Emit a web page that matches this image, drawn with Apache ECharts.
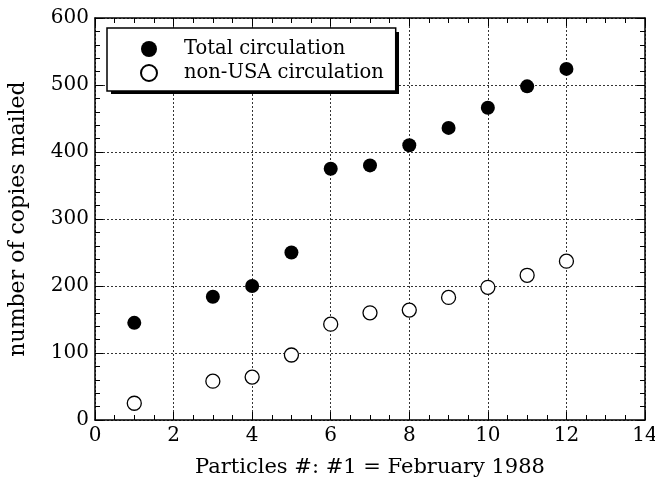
<!DOCTYPE html>
<html>
<head>
<meta charset="utf-8">
<script src="https://cdn.jsdelivr.net/npm/echarts@6/dist/echarts.min.js"></script>
<style>
  html, body { margin: 0; padding: 0; background: #fff; }
  #chart { width: 655px; height: 479px; }
</style>
</head>
<body>
<div id="chart"></div>
<script>
// issue numbers and mailed copies
const issues = [1, 3, 4, 5, 6, 7, 8, 9, 10, 11, 12];
const totalCirculation = [145, 184, 200, 250, 375, 380, 410, 436, 466, 498, 524];
const nonUsaCirculation = [25, 58, 64, 97, 143, 160, 164, 183, 198, 216, 237];
const xTicks = [0, 2, 4, 6, 8, 10, 12, 14];
const yTicks = [0, 100, 200, 300, 400, 500, 600];

const font = 'DejaVu Serif';

const pairs = (xs, ys) => xs.map((x, i) => [x, ys[i]]);

// every axis gets its own copies, ticks point into the plot
function frameAxis(extra, split) {
    return Object.assign({
        type: 'value',
        axisLine: { show: true, onZero: false, lineStyle: { color: '#000', width: 1.5 } },
        axisTick: { show: true, inside: true, length: 8, lineStyle: { color: '#000', width: 1 } },
        minorTick: { show: true, splitNumber: split, length: 5, lineStyle: { color: '#000', width: 1 } },
        splitLine: { show: false }
    }, extra);
}

const labelStyle = { fontFamily: font, fontSize: 20, color: '#000', margin: 6 };
const gridLine = { show: true, lineStyle: { color: '#000', type: [2, 2], width: 0.8 } };

const chart = echarts.init(document.getElementById('chart'));
chart.setOption({
    animation: false,
    backgroundColor: '#fff',
    grid: { left: 95, right: 10, top: 18, bottom: 59, outerBoundsMode: 'none' },
    // solid drop shadow behind the legend box
    graphic: [{
        type: 'rect',
        z: 3,
        shape: { x: 111, y: 32, width: 288, height: 62 },
        style: { fill: '#000' }
    }],
    legend: {
        orient: 'vertical',
        left: 107,
        top: 28,
        padding: [11, 12, 8, 33],
        itemGap: 4,
        itemWidth: 16,
        itemHeight: 16,
        backgroundColor: '#fff',
        borderColor: '#000',
        borderWidth: 1.5,
        borderRadius: 0,
        textStyle: { fontFamily: font, fontSize: 19.5, color: '#000', padding: [0, 0, 0, 22] },
        data: ['Total circulation', 'non-USA circulation']
    },
    xAxis: [
        frameAxis({
            position: 'bottom',
            min: xTicks[0], max: xTicks[xTicks.length - 1], interval: 2,
            axisLabel: labelStyle,
            splitLine: gridLine,
            name: 'Particles #: #1 = February 1988',
            nameLocation: 'middle',
            nameGap: 37,
            nameTextStyle: { fontFamily: font, fontSize: 21, color: '#000' }
        }, 4),
        frameAxis({
            position: 'top',
            min: xTicks[0], max: xTicks[xTicks.length - 1], interval: 2,
            axisLabel: { show: false }
        }, 4)
    ],
    yAxis: [
        frameAxis({
            position: 'left',
            min: yTicks[0], max: yTicks[yTicks.length - 1], interval: 100,
            axisLabel: labelStyle,
            splitLine: gridLine,
            name: 'number of copies mailed',
            nameLocation: 'middle',
            nameGap: 66,
            nameTextStyle: { fontFamily: font, fontSize: 22, color: '#000' }
        }, 5),
        frameAxis({
            position: 'right',
            min: yTicks[0], max: yTicks[yTicks.length - 1], interval: 100,
            axisLabel: { show: false }
        }, 5)
    ],
    series: [{
        name: 'Total circulation',
        type: 'scatter',
        symbol: 'circle',
        symbolSize: 14,
        itemStyle: { color: '#000', opacity: 1 },
        data: pairs(issues, totalCirculation)
    }, {
        name: 'non-USA circulation',
        type: 'scatter',
        symbol: 'circle',
        symbolSize: 14,
        itemStyle: { color: '#fff', borderColor: '#000', borderWidth: 1.3, opacity: 1 },
        data: pairs(issues, nonUsaCirculation)
    }]
});
</script>
</body>
</html>
